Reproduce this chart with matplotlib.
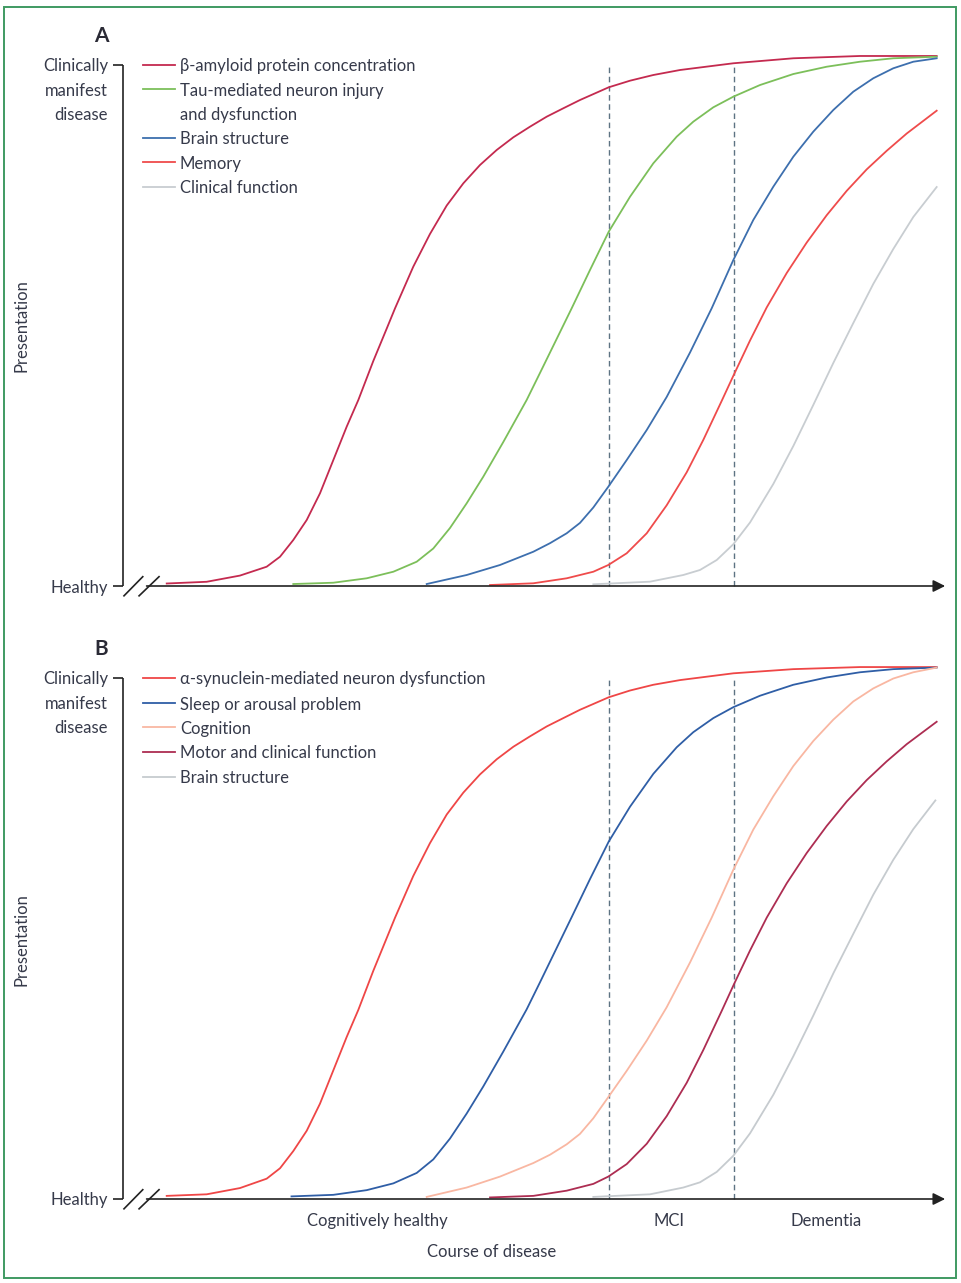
import matplotlib.pyplot as plt
from matplotlib.patches import Rectangle

plt.rcParams['font.family'] = ['Lato', 'DejaVu Sans']

W, H = 961, 1283
TXT = '#363a4a'

# ---- panel A: Alzheimer's disease ----
# x = course of disease (0..100), y = presentation (0 = healthy, 100 = clinically manifest)
amyloid_x = [5.37, 10.28, 14.37, 17.65, 19.29, 20.92, 22.57, 24.20, 25.84, 27.48, 28.91, 30.75,
             32.40, 33.42, 35.66, 37.71, 39.77, 41.81, 43.86, 45.91, 47.95, 50.0, 52.05, 54.09,
             56.14, 59.67, 62.29, 65.15, 68.43, 74.98, 82.35, 90.54, 99.96]
amyloid_y = [0.48, 0.81, 2.0, 3.70, 5.62, 8.83, 12.67, 17.79, 24.18, 30.58, 35.70, 43.19,
             49.42, 53.30, 61.29, 67.56, 73.03, 77.29, 80.81, 83.69, 86.12, 88.16, 90.08, 91.69,
             93.28, 95.72, 96.99, 98.08, 99.04, 100.33, 101.29, 101.73, 101.73]

tau_x = [20.92, 25.84, 29.94, 33.21, 36.08, 38.12, 40.17, 42.22, 44.26, 46.72, 49.59, 51.23,
         55.12, 57.37, 59.67, 62.29, 65.15, 68.02, 70.06, 72.52, 74.98, 78.26, 82.35, 86.45,
         90.54, 94.63, 99.96]
tau_y = [0.38, 0.63, 1.48, 2.74, 4.66, 7.20, 11.13, 15.87, 20.98, 27.64, 35.70, 40.90,
         53.30, 60.65, 68.00, 74.72, 81.13, 86.24, 89.12, 91.88, 93.92, 96.16, 98.27, 99.67,
         100.63, 101.29, 101.59]

brainA_x = [37.31, 42.22, 46.31, 50.41, 52.46, 54.51, 56.14, 57.78, 59.64, 61.88, 64.34, 66.79,
            69.66, 72.32, 74.98, 77.43, 79.89, 82.35, 84.80, 87.26, 89.72, 92.17, 94.63, 97.09,
            99.96]
brainA_y = [0.38, 2.11, 4.03, 6.58, 8.22, 10.12, 12.11, 15.07, 19.10, 24.18, 29.94, 36.28,
            44.82, 53.30, 62.57, 70.25, 76.64, 82.40, 87.20, 91.36, 94.88, 97.45, 99.37, 100.63,
            101.29]

memory_x = [45.09, 50.41, 54.51, 57.78, 59.62, 61.88, 64.34, 66.79, 69.25, 71.29, 73.55, 75.02,
            77.03, 79.08, 81.54, 83.99, 86.45, 88.91, 91.36, 93.82, 96.28, 99.96]
memory_y = [0.19, 0.52, 1.48, 2.74, 4.03, 6.28, 10.12, 15.49, 21.82, 28.04, 35.53, 40.48,
            47.12, 53.47, 60.08, 65.91, 71.17, 75.85, 79.96, 83.53, 86.85, 91.23]

clinA_x = [57.78, 64.74, 68.83, 70.88, 72.94, 74.98, 77.03, 79.89, 82.35, 84.80, 87.26, 89.72,
           92.17, 94.63, 97.09, 99.96]
clinA_y = [0.33, 0.83, 2.11, 3.07, 4.99, 8.02, 12.19, 19.58, 26.87, 34.74, 42.80, 50.48,
           57.97, 64.68, 70.83, 76.58]

# ---- panel B: Lewy body disease ----
syn_x = [5.37, 10.28, 14.37, 17.65, 19.29, 20.92, 22.57, 24.20, 25.84, 27.48, 28.91, 30.75,
         32.40, 33.42, 35.66, 37.71, 39.77, 41.81, 43.86, 45.91, 47.95, 50.0, 52.05, 54.09,
         56.14, 59.67, 62.29, 65.15, 68.43, 74.98, 82.35, 90.54, 99.96]
syn_y = [0.6, 0.9, 2.1, 3.9, 5.9, 9.2, 13.1, 18.3, 24.7, 31.1, 36.3, 43.8,
         50.1, 54.0, 62.0, 68.3, 73.8, 78.0, 81.5, 84.4, 86.8, 88.8, 90.7, 92.3,
         93.9, 96.3, 97.6, 98.7, 99.6, 100.9, 101.7, 102.1, 102.1]

sleep_x = [20.70, 25.84, 29.94, 33.21, 36.08, 38.12, 40.17, 42.22, 44.26, 46.72, 49.59, 51.23,
           55.12, 57.37, 59.67, 62.29, 65.15, 68.02, 70.06, 72.52, 74.98, 78.26, 82.35, 86.45,
           90.54, 94.63, 99.96]
sleep_y = [0.5, 0.8, 1.7, 3.0, 5.0, 7.6, 11.6, 16.4, 21.6, 28.3, 36.4, 41.6,
           54.1, 61.4, 68.6, 75.3, 81.6, 86.7, 89.6, 92.3, 94.4, 96.6, 98.7, 100.1,
           101.1, 101.7, 102.0]

cog_x = [37.31, 42.22, 46.31, 50.41, 52.46, 54.51, 56.14, 57.78, 59.64, 61.88, 64.34, 66.79,
         69.66, 72.32, 74.98, 77.43, 79.89, 82.35, 84.80, 87.26, 89.72, 92.17, 94.63, 97.09,
         99.96]
cog_y = [0.4, 2.2, 4.3, 6.9, 8.5, 10.5, 12.5, 15.5, 19.6, 24.6, 30.4, 36.8,
         45.4, 54.0, 63.2, 70.9, 77.3, 83.1, 87.9, 92.0, 95.5, 98.0, 99.9, 101.1,
         102.0]

motor_x = [45.09, 50.41, 54.51, 57.78, 59.62, 61.88, 64.34, 66.79, 69.25, 71.29, 73.55, 75.02,
           77.03, 79.08, 81.54, 83.99, 86.45, 88.91, 91.36, 93.82, 96.28, 99.96]
motor_y = [0.3, 0.6, 1.6, 2.9, 4.3, 6.7, 10.6, 15.9, 22.3, 28.6, 36.1, 41.1,
           47.7, 54.0, 60.6, 66.4, 71.6, 76.3, 80.4, 84.0, 87.3, 91.6]

brainB_x = [57.78, 64.74, 68.83, 70.88, 72.94, 74.98, 77.03, 79.89, 82.35, 84.80, 87.26, 89.72,
            92.17, 94.63, 97.09, 99.80]
brainB_y = [0.4, 0.9, 2.2, 3.2, 5.2, 8.3, 12.6, 20.0, 27.4, 35.2, 43.3, 50.9,
            58.4, 65.1, 71.0, 76.5]

stage_cuts = [59.7, 75.0]
stage_names = ['Cognitively healthy', 'MCI', 'Dementia']
stage_pos = [31.2, 67.1, 86.4]

panelA = [
    (amyloid_x, amyloid_y, '#c42a4f', ['β-amyloid protein concentration']),
    (tau_x, tau_y, '#7cbf5a', ['Tau-mediated neuron injury', 'and dysfunction']),
    (brainA_x, brainA_y, '#3d6fae', ['Brain structure']),
    (memory_x, memory_y, '#ef4b4b', ['Memory']),
    (clinA_x, clinA_y, '#c8cdd1', ['Clinical function']),
]
panelB = [
    (syn_x, syn_y, '#ef4646', ['α-synuclein-mediated neuron dysfunction']),
    (sleep_x, sleep_y, '#2f5ea6', ['Sleep or arousal problem']),
    (cog_x, cog_y, '#f9b7a2', ['Cognition']),
    (motor_x, motor_y, '#ad2d52', ['Motor and clinical function']),
    (brainB_x, brainB_y, '#c6cbcf', ['Brain structure']),
]

fig = plt.figure(figsize=(W / 100, H / 100), dpi=100)

# green frame
fig.add_artist(Rectangle((4 / W, 1 - 1278 / H), 952 / W, 1271 / H, transform=fig.transFigure,
                         fill=False, edgecolor='#3f9a62', lw=1.4))

# pixel scale: x 0->123px, 8.14 px per unit; y 5.21 px per unit
sx, sy = 8.14, 5.21
x0px = 123
xlo, xhi, ylo, yhi = -3, 102, -4, 106


def make_axes(base_py):
    left = (x0px + xlo * sx) / W
    width = (xhi - xlo) * sx / W
    bottom = 1 - (base_py - ylo * sy) / H
    height = (yhi - ylo) * sy / H
    ax = fig.add_axes([left, bottom, width, height])
    ax.set_xlim(xlo, xhi)
    ax.set_ylim(ylo, yhi)
    ax.axis('off')
    return ax


def draw_panel(ax, series, letter, leg_rows):
    k = dict(color='#222222', lw=1.2, clip_on=False, solid_capstyle='butt')
    # y axis + ticks
    ax.plot([0, 0], [0, 100], **k)
    ax.plot([-1.25, 0], [100, 100], **k)
    ax.plot([-1.25, 0], [0, 0], **k)
    # x axis with break marks and arrow
    ax.annotate('', xy=(101.0, 0), xytext=(2.9, 0),
                arrowprops=dict(arrowstyle='-|>', color='#222222', lw=1.2,
                                mutation_scale=18, shrinkA=0, shrinkB=0))
    ax.plot([0.05, 2.5], [-2.0, 1.9], **k)
    ax.plot([1.9, 4.5], [-2.0, 1.9], **k)

    # stage boundaries
    for c in stage_cuts:
        ax.plot([c, c], [0, 100], color='#5d7383', lw=1.0, ls=(0, (4, 2.6)))

    # tick labels
    ax.text(-1.85, 0, 'Healthy', ha='right', va='center_baseline', fontsize=12, color=TXT)
    for yy, s in zip([100, 95.3, 90.6], ['Clinically', 'manifest', 'disease']):
        ax.text(-1.85, yy, s, ha='right', va='center_baseline', fontsize=12, color=TXT)

    # curves
    for xs, ys, col, lab in series:
        ax.plot(xs, ys, color=col, lw=1.3, clip_on=False, solid_joinstyle='round')

    # legend (drawn by hand)
    i = 0
    for xs, ys, col, lab in series:
        yy = leg_rows[i]
        ax.plot([2.46, 6.39], [yy, yy], color=col, lw=1.3, clip_on=False)
        for j, s in enumerate(lab):
            ax.text(7.0, leg_rows[i + j], s, ha='left', va='center_baseline',
                    fontsize=12, color=TXT)
        i += len(lab)

    ax.text(-2.7, 105.5, letter, ha='center', va='center', fontsize=15,
            fontweight='bold', color='#2a2a35')


axA = make_axes(586)
draw_panel(axA, panelA, 'A', [100, 95.3, 90.6, 86.0, 81.3, 76.6])
axB = make_axes(1199)
draw_panel(axB, panelB, 'B', [100, 95.2, 90.5, 85.8, 81.0])

# stage labels under panel B
for s, p in zip(stage_names, stage_pos):
    axB.text(p, -4.0, s, ha='center', va='center_baseline', fontsize=12, color=TXT, clip_on=False)

fig.text(492 / W, 1 - 1252 / H, 'Course of disease', ha='center', va='center',
         fontsize=12, color=TXT)
fig.text(22 / W, 1 - 326 / H, 'Presentation', ha='center', va='center', rotation=90,
         fontsize=12, color=TXT)
fig.text(22 / W, 1 - 940 / H, 'Presentation', ha='center', va='center', rotation=90,
         fontsize=12, color=TXT)

fig.savefig('out.png', dpi=100)
